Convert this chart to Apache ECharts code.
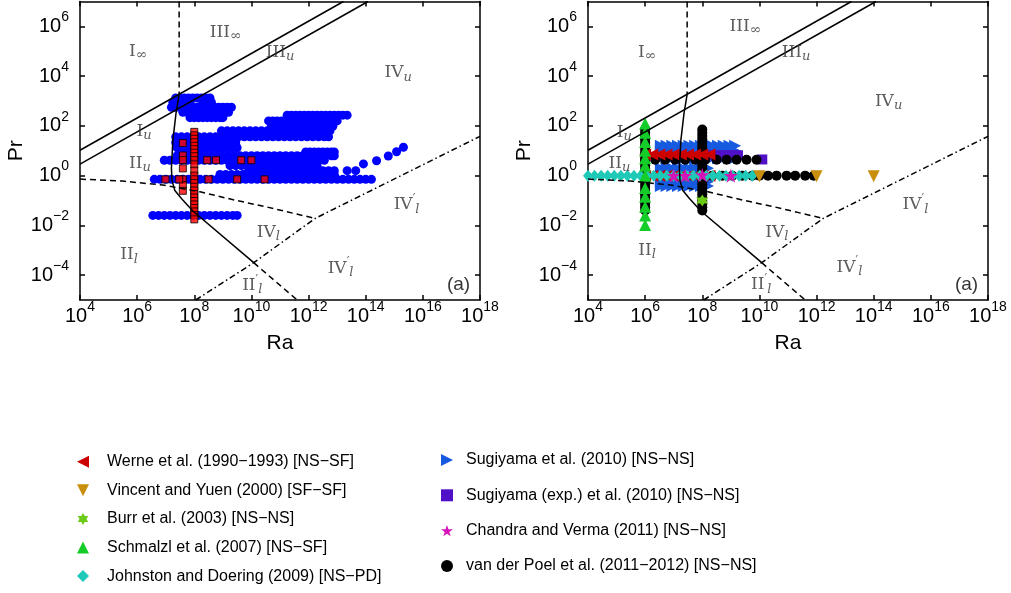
<!DOCTYPE html>
<html>
<head>
<meta charset="utf-8">
<title>Ra–Pr regimes</title>
<script src="https://cdn.jsdelivr.net/npm/echarts@6.0.0/dist/echarts.min.js"></script>
<style>
  html, body { margin: 0; padding: 0; background: #fff; }
  #chart { width: 1011px; height: 593px; }
</style>
</head>
<body>
<div id="chart"></div>
<script>
// every value below is a decade exponent: x = log10(Ra), y = log10(Pr)
const raTicks = [4, 6, 8, 10, 12, 14, 16, 18];
const prTicks = [-4, -2, 0, 2, 4, 6];

// regime boundaries (same in both panels)
const upperSolid = [[4, 1.02], [13.22, 7]];
const lowerSolid = [[4, 0.46], [14.08, 7]];
const verticalDash = [[7.47, 7], [7.47, 3.27]];
const bentSolid = [[7.47, 3.27], [7.36, 2.5], [7.25, 1.42], [7.2, 0.3], [7.22, -0.2], [7.32, -0.6], [7.55, -0.92], [7.95, -1.42], [10.08, -3.5]];
const bentDash = [[4, -0.14], [5.5, -0.22], [6.9, -0.38], [8.2, -0.65], [9.4, -0.98], [10.5, -1.25], [12.23, -1.72]];
const dashDot = [[8.05, -5], [10.08, -3.5], [12.23, -1.72], [18, 1.58]];
const lowerDash = [[10.08, -3.5], [11.6, -5]];

// left panel: compilation (blue circles), one Ra list per Pr row
const bluePr = [3.12, 2.95, 2.75, 2.55, 2.33, 2.43, 2.2, 1.98, 1.8, 1.56, 1.33, 1.12, 0.95, 0.8, 0.62, 0.4, 0.2, 0.05, -0.15, -1.6];
const blueRa = [
  [7.35, 7.5, 7.65, 7.8, 7.95, 8.1, 8.25, 8.4, 8.55],
  [7.25, 7.4, 7.55, 7.7, 7.85, 8.3, 8.45, 8.6],
  [7.2, 7.35, 7.5, 7.65, 7.8, 7.95, 8.1, 8.25, 8.4, 8.55, 8.7, 8.85, 9.0, 9.15, 9.3],
  [7.6, 7.75, 7.9, 8.05, 8.2, 8.35, 8.5, 8.65, 8.8, 8.95, 9.1, 9.2],
  [7.85, 8.0, 8.15, 8.3, 8.45, 8.6, 8.75, 8.9, 9.0],
  [11.25, 11.4, 11.55, 11.7, 11.85, 12.0, 12.15, 12.3, 12.45, 12.6, 12.75, 12.9, 13.05, 13.2, 13.35],
  [10.6, 10.75, 10.9, 11.05, 11.2, 11.35, 11.5, 11.65, 11.8, 11.95, 12.1, 12.25, 12.4, 12.55, 12.7, 12.85, 13.0],
  [10.7, 10.85, 11.0, 11.15, 11.3, 11.45, 11.6, 11.75, 11.9, 12.05, 12.2, 12.35, 12.5, 12.65, 12.85],
  [8.95, 9.15, 9.35, 9.55, 9.75, 9.95, 10.15, 10.35, 10.55, 10.75, 10.95, 11.15, 11.35, 11.55, 11.75, 11.95, 12.15, 12.35, 12.55, 12.75],
  [7.35, 7.55, 7.75, 7.95, 8.15, 8.35, 8.55, 8.75, 8.95, 9.15, 9.35, 9.55, 9.75, 9.95, 10.15, 10.35, 10.55, 10.75, 10.95, 11.15, 11.35, 11.55, 11.75, 11.95, 12.15, 12.35, 12.55, 12.7],
  [7.35, 7.5, 7.65, 7.8, 7.95, 8.1, 8.25, 8.4, 8.55, 8.7, 8.85, 9.0, 9.15, 9.3, 9.45],
  [7.4, 7.55, 7.7, 7.85, 8.0, 8.15, 8.3, 8.45, 8.6, 8.75, 8.9, 9.05, 9.2, 9.35, 9.5],
  [11.9, 12.05, 12.2, 12.35, 12.5, 12.65, 12.8, 12.9],
  [7.4, 7.6, 7.8, 8.0, 8.2, 8.4, 8.6, 8.8, 9.0, 9.2, 9.4, 9.6, 9.8, 10.0, 10.2, 10.4, 10.6, 10.8, 11.0, 11.2, 11.4, 11.6, 11.8, 12.0, 12.2, 12.4, 12.6, 12.8, 12.9],
  [6.95, 7.15, 7.35, 7.55, 7.75, 7.95, 8.15, 8.35, 8.55, 8.75, 8.95, 9.15, 9.35, 9.55, 9.75, 9.95, 10.15, 10.35, 10.55, 10.75, 10.95, 11.15, 11.35, 11.55, 11.75, 11.95, 12.15, 12.35, 12.55],
  [9.25, 9.45, 9.65, 9.85, 10.05, 10.25, 10.45, 10.65, 10.85, 11.05, 11.25, 11.45, 11.65, 11.85, 12.05, 12.3],
  [9.9, 10.1, 10.3, 10.5, 10.7, 10.9, 11.1, 11.3, 11.5, 11.7, 11.9, 12.1, 12.3, 12.5, 12.7, 12.9, 13.35, 13.65],
  [8.9, 9.1, 9.3, 9.5, 9.7, 9.9, 10.1, 10.3, 10.5, 10.7, 10.9, 11.1, 11.3, 11.5, 11.7, 11.9, 12.1, 12.3, 12.5, 12.7, 12.9],
  [6.6, 6.8, 7.0, 7.2, 7.4, 7.6, 7.8, 8.0, 8.2, 8.4, 8.6, 8.8, 9.0, 9.2, 9.4, 9.6, 9.8, 10.0, 10.2, 10.4, 10.6, 10.8, 11.0, 11.2, 11.4, 11.6, 11.8, 12.0, 12.2, 12.4, 12.6, 12.8, 13.0, 13.2, 13.4, 13.6, 13.8, 14.0, 14.2],
  [6.55, 6.75, 6.95, 7.15, 7.35, 7.55, 7.75, 7.95, 8.15, 8.35, 8.55, 8.75, 8.95, 9.15, 9.35, 9.5],
];
const blueTailRa = [13.92, 14.38, 14.79, 15.08, 15.32];
const blueTailPr = [0.47, 0.6, 0.79, 0.96, 1.14];

// left panel: red squares
const redColumnRa = 8.0;
const redColumnPr = [1.76, 1.62, 1.48, 1.34, 1.2, 1.06, 0.92, 0.78, 0.62, 0.45, 0.2, 0.0, -0.15, -0.3, -0.45, -0.6, -0.74, -0.88, -1.02, -1.16, -1.3, -1.44, -1.58, -1.76];
const redSideRa = 7.6;
const redSidePr = [1.31, 0.81, 0.62, 0.29, -0.15, -0.38, -0.61];
const redWaterPr = 0.62;
const redWaterRa = [8.45, 8.76, 9.64, 10.0];
const redAirPr = -0.15;
const redAirRa = [6.99, 7.47, 8.5, 9.5, 10.46];

// right panel: simulations
const wernePr = [0.85, 0.0];
const werneRa = [6.0, 6.25, 6.5, 6.75, 7.0, 7.25, 7.5, 7.75, 8.0, 8.25];
const vincentRa = [10, 12, 14];
const vincentPr = [-0.03, -0.03, -0.03];
const burrRa = [8.0];
const burrPr = [-1.0];
const schmalzlRa = 6.0;
const schmalzlPr = [2.1, 1.72, 1.35, 1.0, 0.7, 0.4, 0.0, -0.5, -0.85, -1.25, -1.6, -1.98];
const johnstonPr = 0.0;
const johnstonRa = [4.0, 4.23, 4.46, 4.69, 4.92, 5.15, 5.38, 5.61, 5.84, 6.07, 6.3, 6.53, 6.76, 6.99, 7.22, 7.45, 7.68, 7.91, 8.14, 8.37, 8.6, 8.83, 9.06, 9.29, 9.52, 9.75];
const sugiyamaUpperPr = [1.2, 1.0, 0.7];
const sugiyamaUpperRa = [6.55, 6.75, 6.95, 7.15, 7.35, 7.55, 7.75, 7.95, 8.15, 8.35, 8.55, 8.75, 8.95, 9.15];
const sugiyamaLowerPr = [0.3, -0.25, -0.42];
const sugiyamaLowerRa = [6.55, 6.75, 6.95, 7.15, 7.35, 7.55, 7.75, 7.95, 8.2];
const sugiyamaExpRa = [8.3, 8.5, 8.7, 8.9, 9.1, 9.25, 10.1];
const sugiyamaExpPr = [0.82, 0.82, 0.82, 0.82, 0.82, 0.82, 0.65];
const chandraRa = [7.0, 7.4, 8.0, 9.0];
const chandraPr = [0.0, 0.0, 0.03, 0.0];
const poelColumnsRa = [6.0, 8.0];
const poelColumnPr = [1.85, 1.72, 1.59, 1.46, 1.33, 1.2, 1.07, 0.94, 0.81, 0.68, 0.55, 0.42, 0.29, 0.16, 0.03, -0.1, -0.23, -0.36, -0.49, -0.62, -0.75, -0.88, -1.01, -1.14, -1.27, -1.4];
const poelWaterPr = 0.64;
const poelWaterRa = [6.0, 6.35, 6.7, 7.05, 7.4, 7.75, 8.1, 8.5, 8.85, 9.2, 9.55, 9.9];
const poelUnitPr = 0.0;
const poelUnitRa = [8.35, 8.7, 9.05, 9.4, 9.75, 10.0, 10.3, 10.6, 10.95, 11.25, 11.6, 11.9];

// regime names, anchored in data coordinates
const leftRegionLabels = [
  ['I{i|∞}', 6.04, 5.0], ['III{i|∞}', 9.1, 5.75], ['III{u|u}', 11.0, 4.96], ['IV{u|u}', 15.14, 4.14],
  ['I{u|u}', 6.24, 1.77], ['II{u|u}', 6.1, 0.5], ['IV{p|′}{u|l}', 15.43, -1.18], ['IV{u|l}', 10.59, -2.28],
  ['II{u|l}', 5.72, -3.19], ['IV{p|′}{u|l}', 13.12, -3.72], ['II{p|′}{u|l}', 10.03, -4.42],
];
const rightRegionLabels = [
  ['I{i|∞}', 6.07, 4.96], ['III{i|∞}', 9.51, 5.99], ['III{u|u}', 11.28, 4.96], ['IV{u|u}', 14.52, 2.98],
  ['I{u|u}', 5.27, 1.74], ['II{u|u}', 5.1, 0.5], ['IV{p|′}{u|l}', 15.46, -1.18], ['IV{u|l}', 10.61, -2.28],
  ['II{u|l}', 6.07, -3.01], ['IV{p|′}{u|l}', 13.15, -3.68], ['II{p|′}{u|l}', 10.06, -4.39],
];
const panelTag = ['(a)', 17.25, -4.4];

const NAMES = {
  werne: 'Werne et al. (1990−1993) [NS−SF]',
  vincent: 'Vincent and Yuen (2000) [SF−SF]',
  burr: 'Burr et al. (2003) [NS−NS]',
  schmalzl: 'Schmalzl et al. (2007) [NS−SF]',
  johnston: 'Johnston and Doering (2009) [NS−PD]',
  sugiyama: 'Sugiyama et al. (2010) [NS−NS]',
  sugiyamaExp: 'Sugiyama (exp.) et al. (2010) [NS−NS]',
  chandra: 'Chandra and Verma (2011) [NS−NS]',
  poel: 'van der Poel et al. (2011−2012) [NS−NS]',
};

const SYMBOLS = {
  left: 'path://M0,5L10,0L10,10Z',
  right: 'path://M10,5L0,0L0,10Z',
  down: 'path://M0,0L10,0L5,10Z',
  star5: 'path://M5,0L6.2,3.6L10,3.6L6.9,5.9L8.1,9.5L5,7.3L1.9,9.5L3.1,5.9L0,3.6L3.8,3.6Z',
  star6: 'path://M5,0L6.44,2.5L9.33,2.5L7.89,5L9.33,7.5L6.44,7.5L5,10L3.56,7.5L0.67,7.5L2.11,5L0.67,2.5L3.56,2.5Z',
};

// helpers to turn the arrays into [ra, pr] points
const rows = (prs, ras) => prs.flatMap((p, i) => (Array.isArray(ras[0]) ? ras[i] : ras).map((r) => [r, p]));
const column = (ra, prs) => prs.map((p) => [ra, p]);
const pairs = (ras, prs) => ras.map((r, i) => [r, prs[i]]);

const FONT = '"Liberation Sans", Arial, Helvetica, sans-serif';
const SERIF = '"DejaVu Serif", serif';
const powLabel = (v) => '{b|10}{s|' + String(v).replace('-', '\u2212') + '}';
const powRich = {
  b: { fontSize: 20, fontFamily: FONT, color: '#000' },
  s: { fontSize: 14, fontFamily: FONT, color: '#000', padding: [0, 0, 18, 0] },
};
const frame = { lineStyle: { color: '#000', width: 1.5 } };

function xAxes(gridIndex) {
  const common = {
    type: 'value', gridIndex, min: 4, max: 18,
    axisLine: { onZero: false, ...frame },
    axisTick: { inside: true, length: 5, customValues: raTicks, ...frame },
    splitLine: { show: false },
  };
  return [
    {
      ...common, position: 'bottom',
      name: 'Ra', nameLocation: 'middle', nameGap: 33,
      nameTextStyle: { fontSize: 21, fontFamily: FONT, color: '#000' },
      axisLabel: { customValues: raTicks, formatter: powLabel, rich: powRich, margin: 0 },
    },
    { ...common, position: 'top', axisLabel: { show: false } },
  ];
}

function yAxes(gridIndex) {
  const common = {
    type: 'value', gridIndex, min: -5, max: 7,
    axisLine: { onZero: false, ...frame },
    axisTick: { inside: true, length: 5, customValues: prTicks, ...frame },
    splitLine: { show: false },
  };
  return [
    {
      ...common, position: 'left',
      name: 'Pr', nameLocation: 'middle', nameGap: 47,
      nameTextStyle: { fontSize: 21, fontFamily: FONT, color: '#000' },
      axisLabel: { customValues: prTicks, formatter: powLabel, rich: powRich, margin: 11 },
    },
    { ...common, position: 'right', axisLabel: { show: false } },
  ];
}

function boundaries(axis) {
  const line = (data, type) => ({
    type: 'line', ...axis, data, symbol: 'none', silent: true,
    lineStyle: { color: '#000', width: 1.5, type },
  });
  return [
    line(upperSolid, 'solid'),
    line(lowerSolid, 'solid'),
    line(bentSolid, 'solid'),
    line(verticalDash, [6, 4]),
    line(bentDash, [6, 4]),
    line(lowerDash, [6, 4]),
    line(dashDot, [6, 3, 1.5, 3]),
  ];
}

function regionText(axis, labels) {
  return {
    type: 'scatter', ...axis, silent: true, symbolSize: 0,
    data: labels.map(([t, x, y]) => ({ name: t, value: [x, y] })).concat([
      { name: panelTag[0], value: [panelTag[1], panelTag[2]], label: { fontFamily: FONT, fontSize: 19, color: '#000' } },
    ]),
    label: {
      show: true, position: 'inside', formatter: (p) => p.name,
      fontFamily: SERIF, fontSize: 17, color: '#333',
      rich: {
        i: { fontFamily: SERIF, fontSize: 14, color: '#333', padding: [8, 0, 0, 0] },
        u: { fontFamily: SERIF, fontSize: 13, fontStyle: 'italic', color: '#333', padding: [9, 0, 0, 0] },
        p: { fontFamily: SERIF, fontSize: 12, color: '#333', padding: [0, 0, 10, 0] },
      },
    },
    z: 5,
  };
}

const scatter = (axis, name, data, symbol, symbolSize, color, extra) => ({
  type: 'scatter', ...axis, name, data, symbol, symbolSize,
  itemStyle: { color, opacity: 1 }, ...extra,
});

const legendBase = {
  orient: 'vertical', padding: 0, itemWidth: 12, itemHeight: 12,
  selectedMode: false,
};

const L = { xAxisIndex: 0, yAxisIndex: 0 };
const R = { xAxisIndex: 2, yAxisIndex: 2 };

const chart = echarts.init(document.getElementById('chart'));

chart.setOption({
  animation: false,
  backgroundColor: '#fff',
  grid: [
    { left: 80, top: 1.5, width: 400, height: 298.5 },
    { left: 588, top: 1.5, width: 400, height: 298.5 },
  ],
  xAxis: [...xAxes(0), ...xAxes(1)],
  yAxis: [...yAxes(0), ...yAxes(1)],
  legend: [
    {
      ...legendBase,
      data: [NAMES.werne, NAMES.vincent, NAMES.burr, NAMES.schmalzl, NAMES.johnston],
      left: 77, top: 451.7, itemGap: 8.6,
      textStyle: { fontSize: 16, fontFamily: FONT, color: '#000', lineHeight: 20, padding: [0, 0, 0, 13] },
    },
    {
      ...legendBase,
      data: [NAMES.sugiyama, NAMES.sugiyamaExp, NAMES.chandra, NAMES.poel],
      left: 441, top: 450, itemGap: 15.3,
      textStyle: { fontSize: 16, fontFamily: FONT, color: '#000', lineHeight: 20, padding: [0, 0, 0, 8] },
    },
  ],
  series: [
    ...boundaries(L),
    scatter(L, 'compilation', rows(bluePr, blueRa).concat(pairs(blueTailRa, blueTailPr)), 'circle', 9, '#0000ff'),
    scatter(L, 'squares',
      column(redColumnRa, redColumnPr)
        .concat(column(redSideRa, redSidePr))
        .concat(rows([redWaterPr], redWaterRa))
        .concat(rows([redAirPr], redAirRa)),
      'rect', 7, '#ff0000', { itemStyle: { color: '#ff0000', borderColor: '#000', borderWidth: 1 } }),
    regionText(L, leftRegionLabels),

    ...boundaries(R),
    scatter(R, NAMES.sugiyama, rows(sugiyamaUpperPr, sugiyamaUpperRa).concat(rows(sugiyamaLowerPr, sugiyamaLowerRa)), SYMBOLS.right, 12, '#165ae0'),
    scatter(R, NAMES.sugiyamaExp, pairs(sugiyamaExpRa, sugiyamaExpPr), 'rect', 10, '#5010c8'),
    scatter(R, NAMES.poel,
      column(poelColumnsRa[0], poelColumnPr)
        .concat(column(poelColumnsRa[1], poelColumnPr))
        .concat(rows([poelWaterPr], poelWaterRa))
        .concat(rows([poelUnitPr], poelUnitRa)),
      'circle', 10, '#000'),
    scatter(R, NAMES.werne, rows(wernePr, werneRa), SYMBOLS.left, 12, '#cc0000'),
    scatter(R, NAMES.johnston, rows([johnstonPr], johnstonRa), 'diamond', [10, 12], '#1fc9b8'),
    scatter(R, NAMES.schmalzl, column(schmalzlRa, schmalzlPr), 'triangle', 12, '#14cd28'),
    scatter(R, NAMES.chandra, pairs(chandraRa, chandraPr), SYMBOLS.star5, 14, '#d414b8'),
    scatter(R, NAMES.burr, pairs(burrRa, burrPr), SYMBOLS.star6, 12, '#6ccb14'),
    scatter(R, NAMES.vincent, pairs(vincentRa, vincentPr), SYMBOLS.down, 12, '#c98e0b'),
    regionText(R, rightRegionLabels),
  ],
});
</script>
</body>
</html>
